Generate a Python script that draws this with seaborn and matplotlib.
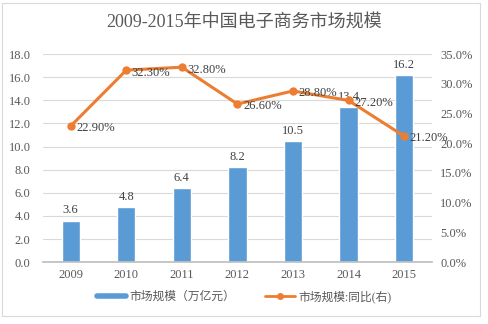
import numpy as np
import matplotlib
matplotlib.use("Agg")
import matplotlib.pyplot as plt
from matplotlib.patches import Rectangle
from matplotlib.lines import Line2D
import seaborn as sns

years = ["2009", "2010", "2011", "2012", "2013", "2014", "2015"]
scale = [3.6, 4.8, 6.4, 8.2, 10.5, 13.4, 16.2]
growth = [22.9, 32.3, 32.8, 26.6, 28.8, 27.2, 21.2]
left_ticks = [0, 2, 4, 6, 8, 10, 12, 14, 16, 18]
right_ticks = [0, 5, 10, 15, 20, 25, 30, 35]
title = "2009-2015年中国电子商务市场规模"
bar_label = "市场规模（万亿元）"
line_label = "市场规模:同比(右)"

sns.set_theme(style="white")
plt.rcParams['font.family'] = ['Liberation Serif', 'Noto Sans CJK SC', 'DejaVu Sans']

BLUE = "#5B9BD5"
ORANGE = "#ED7D31"
GREY = "#595959"

fig = plt.figure(figsize=(4.88, 3.24), dpi=100)
ax = fig.add_axes([0.088, 0.191, 0.797, 0.642])

sns.barplot(x=years, y=scale, ax=ax, color=BLUE, width=0.33, saturation=1)
ax.set_ylim(0, 18)
ax.set_yticks(left_ticks)
ax.set_yticklabels([f"{v:.1f}" for v in left_ticks], color=GREY, fontsize=9)
ax.set_xlim(-0.5, len(years) - 0.5)
ax.tick_params(axis='x', colors=GREY, labelsize=9, length=0, pad=5)
ax.tick_params(axis='y', length=0, pad=9)
ax.yaxis.grid(True, color="#D9D9D9", linewidth=0.8)
ax.set_axisbelow(True)
for s in ["top", "right", "left"]:
    ax.spines[s].set_visible(False)
ax.spines["bottom"].set_color("#BFBFBF")
ax.set_xlabel("")
ax.set_ylabel("")
for i, v in enumerate(scale):
    ax.text(i, v + 0.35, f"{v:.1f}", ha="center", va="bottom", fontsize=9, color="#404040")

ax2 = ax.twinx()
xs = np.arange(len(years))
sns.lineplot(x=xs, y=growth, ax=ax2, color=ORANGE, marker="o", markersize=6,
             markeredgewidth=0, linewidth=2.2)
ax2.set_ylim(0, 35)
ax2.set_yticks(right_ticks)
ax2.set_yticklabels([f"{v:.1f}%" for v in right_ticks], color=GREY, fontsize=9)
ax2.tick_params(axis='y', length=0, pad=6)
for s in ["top", "right", "left", "bottom"]:
    ax2.spines[s].set_visible(False)
ax2.set_xlim(-0.5, len(years) - 0.5)
for i, v in enumerate(growth):
    ax2.text(i + 0.1, v - 0.4, f"{v:.2f}%", ha="left", va="center", fontsize=9, color="#404040")

fig.text(0.5, 0.932, title, ha="center", va="center", fontsize=13, color=GREY)

handles = [Line2D([0], [0], color=BLUE, linewidth=4),
           Line2D([0], [0], color=ORANGE, linewidth=2, marker="o", markersize=4)]
fig.legend(handles, [bar_label, line_label], loc="center", bbox_to_anchor=(0.5, 0.085),
           ncol=2, frameon=False, fontsize=8.5, labelcolor=GREY, handlelength=2.5,
           handletextpad=0.3, columnspacing=2.5)

fig.patches.append(Rectangle((0.004, 0.025), 0.98, 0.965, transform=fig.transFigure,
                             fill=False, edgecolor="#D9D9D9", linewidth=0.8))

fig.savefig("out.png", dpi=100)
